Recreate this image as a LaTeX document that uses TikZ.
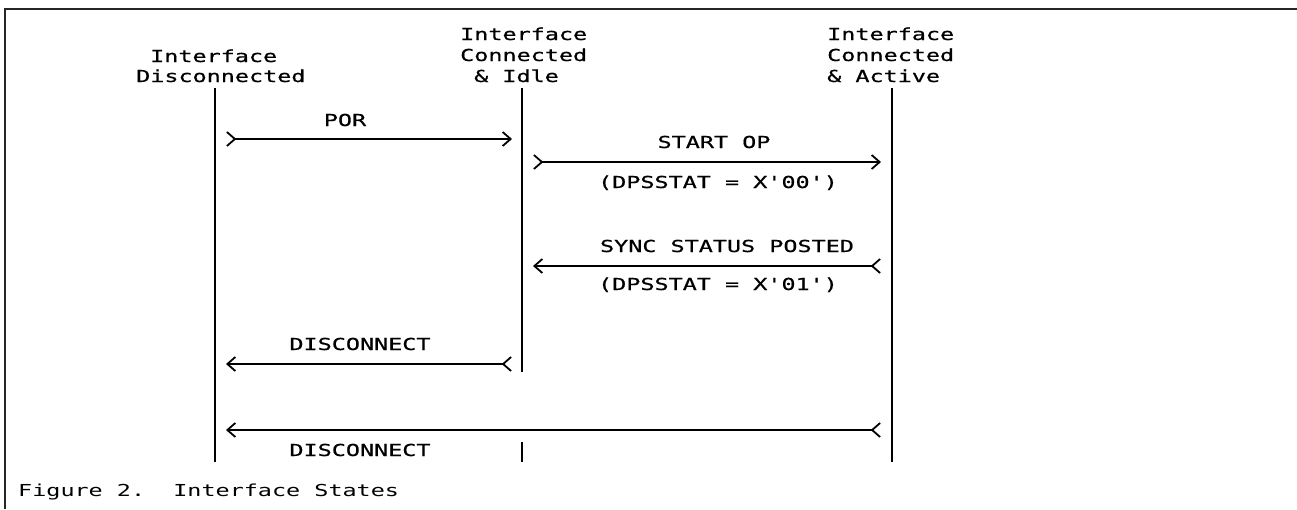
\documentclass[tikz,border=0pt]{standalone}
\usepackage{fontspec}
\setmonofont[FakeStretch=1.42]{DejaVu Sans Mono}
\newfontfamily\dotfont[FakeStretch=1.42, UprightFeatures={FakeBold=0.7}]{DejaVu Sans Mono}
\usetikzlibrary{arrows.meta}
\tikzset{
  chev/.tip={Straight Barb[length=8pt,width=14pt,line width=1.8pt]},
  fwd/.style={line width=1.8pt, arrows={chev[reversed]-chev}},
  bwd/.style={line width=1.8pt, arrows={chev-chev[reversed]}},
  txt/.style={font=\dotfont\fontsize{16.5}{20}\selectfont, inner sep=0pt, anchor=base west},
  lbl/.style={font=\dotfont\fontsize{16.5}{20}\selectfont, inner sep=0pt, anchor=base},
  captxt/.style={font=\ttfamily\fontsize{16.5}{20}\selectfont, inner sep=0pt, anchor=base west},
  life/.style={line width=2pt},
  framel/.style={line width=1.8pt, draw=black!85}
}
\begin{document}
\begin{tikzpicture}[x=1pt,y=-1pt]
\useasboundingbox (0,0) rectangle (1297,509);
% frame
\coordinate (fTL) at (5,9);
\coordinate (fTR) at (1297,9);
\coordinate (fBL) at (5,509);
\draw[framel] (fBL) -- (fTL) -- (fTR);
% headers
\node[txt] (h1a) at (150,62) {Interface};
\node[txt] (h1b) at (136,82) {Disconnected};
\node[txt] (h2a) at (460,40) {Interface};
\node[txt] (h2b) at (460,61) {Connected};
\node[txt] (h2c) at (474,82) {\& Idle};
\node[txt] (h3a) at (827,40) {Interface};
\node[txt] (h3b) at (827,61) {Connected};
\node[txt] (h3c) at (827,82) {\& Active};
% lifelines
\coordinate (L1t) at (215,88);  \coordinate (L1b) at (215,462);
\coordinate (L2t) at (522,88);  \coordinate (L2m) at (522,372);
\coordinate (L2s) at (522,442); \coordinate (L2b) at (522,462);
\coordinate (L3t) at (892,88);  \coordinate (L3b) at (892,462);
\draw[life] (L1t) -- (L1b);
\draw[life] (L2t) -- (L2m);
\draw[life] (L2s) -- (L2b);
\draw[life] (L3t) -- (L3b);
% messages
\coordinate (a1s) at (226,139); \coordinate (a1e) at (512,139);
\coordinate (a2s) at (533,162); \coordinate (a2e) at (881,162);
\coordinate (a3s) at (533,266); \coordinate (a3e) at (881,266);
\coordinate (a4s) at (226,364); \coordinate (a4e) at (512,364);
\coordinate (a5s) at (226,430); \coordinate (a5e) at (881,430);
\draw[fwd] (a1s) -- (a1e);
\draw[fwd] (a2s) -- (a2e);
\draw[bwd] (a3s) -- (a3e);
\draw[bwd] (a4s) -- (a4e);
\draw[bwd] (a5s) -- (a5e);
% labels
\node[lbl] (m1) at (345,126) {POR};
\node[lbl] (m2) at (714,148) {START OP};
\node[lbl] (m2b) at (718,188) {(DPSSTAT = X'00')};
\node[lbl] (m3) at (727,252) {SYNC STATUS POSTED};
\node[lbl] (m3b) at (718,290) {(DPSSTAT = X'01')};
\node[lbl] (m4) at (360,350) {DISCONNECT};
\node[lbl] (m5) at (360,456) {DISCONNECT};
% caption
\node[captxt] (cap) at (18,496) {Figure 2.\ \ Interface States};
\end{tikzpicture}
\end{document}
